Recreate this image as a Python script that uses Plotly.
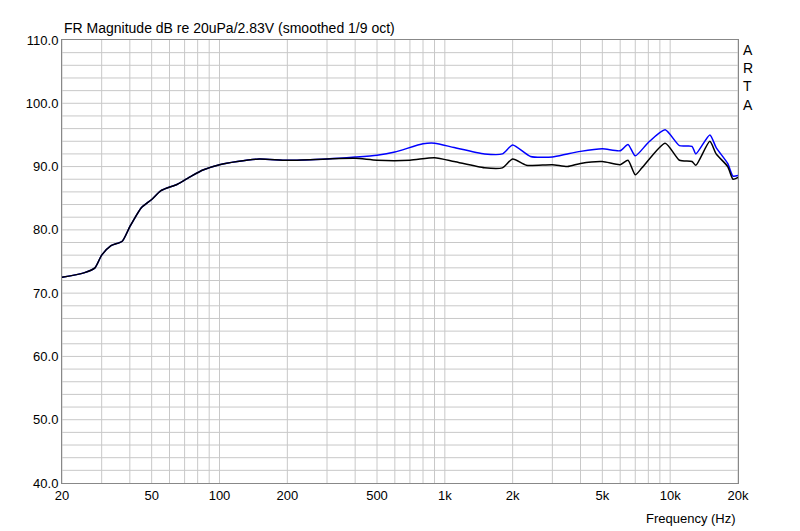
import plotly.graph_objects as go
import numpy as np

freq_black = [20,25,28,30,33,37,40,45,50,55,65,75,85,100,120,150,200,300,400,500,700,900,1100,1500,1800,2000,2300,3000,3500,4000,5000,6000,6500,7000,7500,9500,11000,12500,13000,15000,16000,18000,19000,20000]
db_black = [72.5,73.2,74.0,76.0,77.5,78.2,80.5,83.5,84.8,86.2,87.2,88.5,89.5,90.3,90.8,91.2,91.0,91.2,91.3,91.0,91.0,91.4,90.8,89.8,89.8,91.2,90.2,90.3,90.0,90.5,90.8,90.3,91.0,88.7,89.8,93.7,91.0,90.8,90.2,94.0,92.0,90.0,88.0,88.3]
freq_blue = [20,25,28,30,33,37,40,45,50,55,65,75,85,100,120,150,200,300,400,500,600,800,900,1100,1500,1800,2000,2400,3000,3500,4000,5000,6000,6500,7000,8000,9500,11000,12500,13000,15000,16000,18000,19000,20000]
db_blue = [72.5,73.2,74.0,76.0,77.5,78.2,80.5,83.5,84.8,86.2,87.2,88.5,89.5,90.3,90.8,91.2,91.0,91.2,91.5,91.8,92.3,93.6,93.7,93.0,92.0,92.0,93.4,91.6,91.5,92.0,92.4,92.8,92.5,93.5,91.7,93.8,95.8,93.3,93.2,92.0,95.0,93.0,90.5,88.5,88.6]
x_ticks = [20,50,100,200,500,1000,2000,5000,10000,20000]
x_labels = ["20","50","100","200","500","1k","2k","5k","10k","20k"]
y_ticks = [40,50,60,70,80,90,100,110]

fig = go.Figure()
fig.add_trace(go.Scatter(x=freq_blue, y=db_blue, mode="lines", line=dict(color="#0000ff", width=1.5, shape="spline", smoothing=0.6)))
fig.add_trace(go.Scatter(x=freq_black, y=db_black, mode="lines", line=dict(color="#000000", width=1.5, shape="spline", smoothing=0.6)))

minor = [m*d for d in [10,100,1000,10000] for m in range(1,10) if 20 <= m*d <= 20000]
for f in minor:
    fig.add_shape(type="line", x0=f, x1=f, y0=40, y1=110, xref="x", yref="y",
                  line=dict(color="#c8c8c8", width=1), layer="below")
for v in range(42, 110, 2):
    fig.add_shape(type="line", x0=20, x1=20000, y0=v, y1=v, xref="x", yref="y",
                  line=dict(color="#c8c8c8", width=1), layer="below")

fig.update_layout(
    width=800, height=531, showlegend=False,
    paper_bgcolor="white", plot_bgcolor="white",
    margin=dict(l=54, r=70, t=32, b=56),
    font=dict(family="Liberation Sans, Arial", size=13, color="black"),
    xaxis=dict(type="log", range=[np.log10(20), np.log10(20000)], tickvals=x_ticks, ticktext=x_labels,
               showgrid=False, zeroline=False, showline=True, linecolor="#888", mirror=True, ticks=""),
    yaxis=dict(range=[40,110], tickvals=y_ticks, ticktext=[f"{v:.1f}" for v in y_ticks],
               showgrid=False, zeroline=False, showline=True, linecolor="#888", mirror=True, ticks=""),
    annotations=[
        dict(text="FR Magnitude dB re 20uPa/2.83V (smoothed 1/9 oct)", x=0, y=1.0, xref="paper", yref="paper",
             showarrow=False, xanchor="left", yanchor="bottom", yshift=2, font=dict(size=14)),
        dict(text="A<br>R<br>T<br>A", x=1.005, y=1.0, xref="paper", yref="paper", showarrow=False,
             xanchor="left", yanchor="top", align="left", font=dict(size=14)),
        dict(text="Frequency (Hz)", x=1.0, y=0, xref="paper", yref="paper", showarrow=False,
             xanchor="right", yanchor="top", yshift=-26, font=dict(size=13)),
    ],
)
fig.write_html("out.html")
